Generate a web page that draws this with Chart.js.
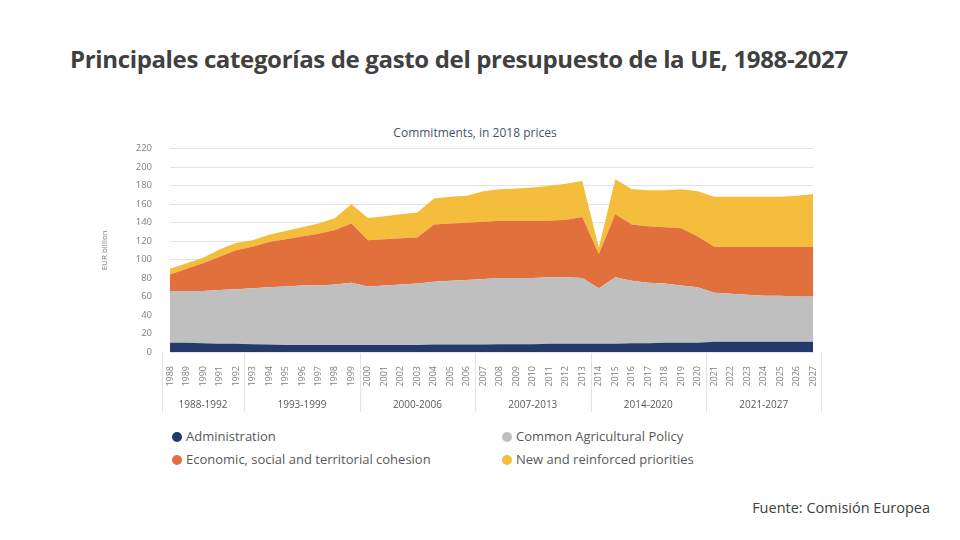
<!DOCTYPE html>
<html>
<head>
<meta charset="utf-8">
<script src="https://cdn.jsdelivr.net/npm/chart.js@4.4.1/dist/chart.umd.min.js"></script>
<style>
  html, body { margin: 0; padding: 0; background: #fff; }
  body { width: 960px; height: 540px; position: relative; overflow: hidden; font-family: "Open Sans", "Noto Sans", sans-serif; }
  #title { position: absolute; left: 70px; top: 42px; font-size: 24px; font-weight: 700; color: #404040; letter-spacing: -0.35px; white-space: nowrap; }
  #subtitle { position: absolute; left: 0; width: 950px; top: 124px; text-align: center; font-size: 12px; color: #44546a; }
  #wrap { position: absolute; left: 100px; top: 125px; width: 730px; height: 287px; }
  #legend { position: absolute; left: 172px; top: 427px; width: 700px; display: grid; grid-template-columns: 330px 330px; row-gap: 5px; font-size: 13px; color: #595959; }
  #legend span.dot { display: inline-block; width: 10px; height: 10px; border-radius: 50%; margin-right: 4px; vertical-align: -1px; }
  #source { position: absolute; right: 30px; top: 498px; font-size: 14.5px; color: #404040; }
</style>
</head>
<body>
<div id="title">Principales categorías de gasto del presupuesto de la UE, 1988-2027</div>
<div id="subtitle">Commitments, in 2018 prices</div>
<div id="wrap"><canvas id="chart"></canvas></div>
<div id="legend"></div>
<div id="source">Fuente: Comisión Europea</div>
<script>
const years = ['1988','1989','1990','1991','1992','1993','1994','1995','1996','1997',
  '1998','1999','2000','2001','2002','2003','2004','2005','2006','2007',
  '2008','2009','2010','2011','2012','2013','2014','2015','2016','2017',
  '2018','2019','2020','2021','2022','2023','2024','2025','2026','2027'];

const periods = ['1988-1992','1993-1999','2000-2006','2007-2013','2014-2020','2021-2027'];

const administration = [10,10,9.5,9,9,8.5,8,7.5,7.5,7.5,
  7.5,7.5,7.5,7.5,7.5,7.5,8,8,8,8,
  8.5,8.5,8.5,9,9,9,9,9,9.5,9.5,
  10,10,10,11,11,11,11,11,11,11];

const agriculture = [56,56,56.5,58,59,60.5,62,63.5,64.5,64.5,
  65.5,67.5,63.5,64.5,65.5,66.5,68,69,70,71,
  71.5,71.5,71.5,72,72,71,60,72,67.5,65.5,
  64,62,60,53,52,51,50,50,49,49];

const cohesion = [18,24,30,36,42,45,49,51,53,56,
  59,64,50,50,50,50,62,62,62,62,
  62,62,62,61,62,66,37,68,61,61,
  61,62,55,50,51,52,53,53,54,54];

const priorities = [6,6,6,8,8,7,8,9,10,11,
  13,21,24,25,26,27,28,29,29,33,
  34,35,36,38,39,39,7,38,38,39,
  40,42,49,54,54,54,54,54,55,57];

const yTicks = [0,20,40,60,80,100,120,140,160,180,200,220];

const series = [
  { label: 'Administration', data: administration, color: '#243a6b' },
  { label: 'Common Agricultural Policy', data: agriculture, color: '#bfbfbf' },
  { label: 'Economic, social and territorial cohesion', data: cohesion, color: '#e2703c' },
  { label: 'New and reinforced priorities', data: priorities, color: '#f4be3c' }
];

const periodLabels = {
  id: 'periodLabels',
  afterDraw(chart) {
    const ctx = chart.ctx;
    const x = chart.scales.x;
    const half = (x.getPixelForValue(1) - x.getPixelForValue(0)) / 2;
    const top = chart.chartArea.bottom;
    ctx.save();
    ctx.font = '10px "Open Sans", sans-serif';
    ctx.fillStyle = '#595959';
    ctx.textAlign = 'center';
    ctx.textBaseline = 'middle';
    ctx.strokeStyle = '#e3e3e3';
    ctx.lineWidth = 1;
    periods.forEach((p) => {
      const [a, b] = p.split('-');
      const i0 = years.indexOf(a);
      const i1 = years.indexOf(b);
      const x0 = x.getPixelForValue(i0) - half;
      const x1 = x.getPixelForValue(i1) + half;
      ctx.beginPath();
      ctx.moveTo(Math.round(x0) + 0.5, top);
      ctx.lineTo(Math.round(x0) + 0.5, top + 60);
      ctx.moveTo(Math.round(x1) + 0.5, top);
      ctx.lineTo(Math.round(x1) + 0.5, top + 60);
      ctx.stroke();
      ctx.fillText(p, (x0 + x1) / 2, top + 53);
    });
    ctx.restore();
  }
};

const ctx = document.getElementById('chart').getContext('2d');
new Chart(ctx, {
  type: 'line',
  data: {
    labels: years,
    datasets: series.map((s, i) => ({
      label: s.label,
      data: s.data,
      backgroundColor: s.color,
      borderColor: s.color,
      borderWidth: 0,
      pointRadius: 0,
      fill: i === 0 ? 'origin' : '-1',
      tension: 0
    }))
  },
  options: {
    responsive: true,
    maintainAspectRatio: false,
    animation: false,
    layout: { padding: { top: 2, right: 0 } },
    plugins: { legend: { display: false }, tooltip: { enabled: false } },
    scales: {
      x: {
        offset: false,
        grid: { display: false },
        border: { display: false },
        ticks: {
          autoSkip: false, minRotation: 90, maxRotation: 90,
          color: '#7f7f7f', font: { size: 9, family: '"Open Sans", sans-serif' }, padding: 6
        },
        afterFit(scale) { scale.height = 60; }
      },
      y: {
        stacked: true,
        min: 0, max: 220,
        afterBuildTicks(scale) { scale.ticks = yTicks.map((v) => ({ value: v })); },
        grid: { color: '#e3e3e3', drawTicks: false },
        border: { display: false },
        ticks: { color: '#7f7f7f', font: { size: 9.5, family: '"Open Sans", sans-serif' }, padding: 18 },
        title: { display: true, text: 'EUR billion', color: '#7f7f7f', font: { size: 8, family: '"Open Sans", sans-serif' }, padding: 0 },
        afterFit(scale) { scale.width = 70; }
      }
    }
  },
  plugins: [periodLabels]
});

const legend = document.getElementById('legend');
series.forEach((s) => {
  const item = document.createElement('div');
  item.innerHTML = '<span class="dot" style="background:' + s.color + '"></span>' + s.label;
  legend.appendChild(item);
});
</script>
</body>
</html>
